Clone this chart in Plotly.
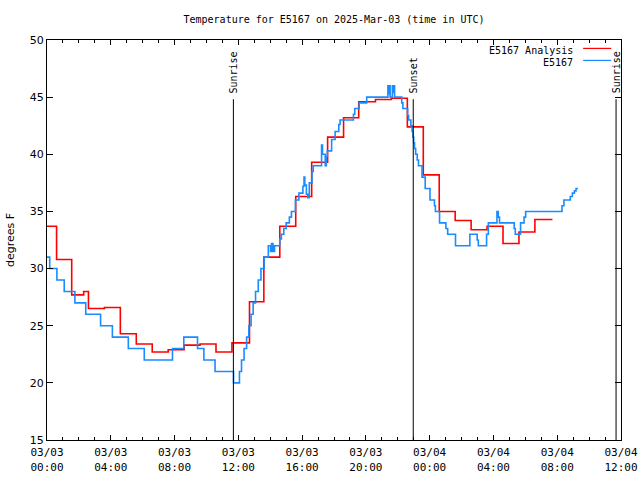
import plotly.graph_objects as go

# ---- data (hours since 2025-03-03 00:00 UTC) ----
analysis_t = [0.0, 0.6, 1.55, 2.3, 2.6, 3.6, 4.6, 5.6, 6.6, 7.6, 8.6, 9.6, 10.6, 11.6,
              12.7, 13.6, 14.6, 15.6, 16.6, 17.6, 18.6, 19.55, 20.6, 21.6, 22.6, 23.6,
              24.6, 25.6, 26.6, 27.6, 28.6, 29.6, 30.6, 31.7]
analysis_v = [33.7, 30.8, 27.7, 28.0, 26.5, 26.6, 24.3, 23.4, 22.7, 22.9, 23.3, 23.4, 22.7, 23.5,
              27.1, 31.0, 33.7, 36.3, 39.3, 41.5, 43.2, 44.6, 44.8, 44.9, 42.4, 38.2,
              35.0, 34.2, 33.4, 33.7, 32.2, 33.2, 34.3, 34.3]

obs_t = [0.00, 0.17, 0.62, 1.08, 1.75, 2.43, 3.36, 4.10, 5.10, 6.10, 7.87, 8.58, 9.44, 9.84,
         10.54, 11.70, 12.07, 12.20, 12.36, 12.52, 12.66, 12.80, 12.93, 13.08, 13.25, 13.42,
         13.62, 13.88, 14.02, 14.08, 14.17, 14.27, 14.60, 14.70, 14.85, 15.00, 15.20, 15.33,
         15.58, 15.80, 16.05, 16.12, 16.17, 16.27, 16.36, 16.45, 16.62, 16.70, 17.22, 17.28,
         17.45, 17.52, 17.58, 17.85, 18.07, 18.30, 18.38, 19.22, 19.30, 19.58, 20.05, 21.38,
         21.42, 21.46, 21.52, 21.66, 21.72, 21.76, 21.80, 22.25, 22.32, 22.62, 22.68, 22.82,
         22.90, 22.95, 23.00, 23.05, 23.12, 23.22, 23.30, 23.52, 23.72, 24.02, 24.30, 24.36,
         24.62, 25.02, 25.13, 25.62, 26.52, 26.98, 27.05, 27.57, 27.68, 28.22, 28.30, 28.38,
         29.30, 29.37, 29.70, 29.92, 30.02, 32.30, 32.42, 32.82, 32.95, 33.08, 33.18, 33.30]
obs_v = [31, 30, 29, 28, 27, 26, 25, 24, 23, 22, 23, 24, 23, 22,
         21, 20, 21, 22, 23, 24, 25, 26, 27, 28, 29, 30,
         31, 32, 31.5, 32.2, 31.5, 32, 32.6, 33, 33.5, 34, 34.5, 35,
         36, 36.6, 37.2, 38, 37.3, 36.5, 36.2, 37.5, 38.5, 39, 40.8, 40,
         39, 39.8, 40.3, 41.3, 42, 42.6, 43, 43.5, 44, 44.5, 45, 46,
         45.3, 46, 45, 46, 45.4, 46, 45, 44.5, 44, 43.4, 43, 42.5,
         42, 41.5, 41, 40.5, 40, 39.5, 39, 38, 37, 36, 35.5, 35,
         34, 33.5, 33, 32, 33, 32.5, 32, 33, 34, 35, 34.5, 34,
         33.5, 33, 34, 34.5, 35, 35.5, 36, 36.3, 36.6, 36.8, 37, 37]

sun_t = [11.69, 22.97, 35.69]
sun_labels = ["Sunrise", "Sunset", "Sunrise"]
sun_top = 44.82

x_tickvals = [0, 4, 8, 12, 16, 20, 24, 28, 32, 36]
x_ticktext = ["03/03<br>00:00", "03/03<br>04:00", "03/03<br>08:00", "03/03<br>12:00",
              "03/03<br>16:00", "03/03<br>20:00", "03/04<br>00:00", "03/04<br>04:00",
              "03/04<br>08:00", "03/04<br>12:00"]
series_names = ["E5167 Analysis", "E5167"]
series_colors = ["#ff0000", "#1a8cff"]

MONO = "DejaVu Sans Mono"
SANS = "DejaVu Sans"

fig = go.Figure()
fig.add_trace(go.Scatter(x=analysis_t, y=analysis_v, mode="lines", line_shape="hv",
                         name=series_names[0], line=dict(color=series_colors[0], width=1.6)))
fig.add_trace(go.Scatter(x=obs_t, y=obs_v, mode="lines", line_shape="hv",
                         name=series_names[1], line=dict(color=series_colors[1], width=1.6)))

for t, lab in zip(sun_t, sun_labels):
    fig.add_shape(type="line", x0=t, x1=t, y0=15, y1=sun_top, xref="x", yref="y",
                  line=dict(color="black", width=1))
    fig.add_annotation(x=t, y=sun_top, xref="x", yref="y", text=lab, showarrow=False,
                       textangle=-90, xanchor="center", yanchor="bottom", yshift=4,
                       font=dict(family=MONO, size=10, color="black"))

# legend drawn gnuplot-style (text right, sample line at far right)
leg_y = [0.975, 0.945]
for name, col, yy in zip(series_names, series_colors, leg_y):
    fig.add_annotation(x=0.92, y=yy, xref="paper", yref="paper", text=name, showarrow=False,
                       xanchor="right", yanchor="middle",
                       font=dict(family=MONO, size=10, color="black"))
    fig.add_shape(type="line", x0=0.934, x1=0.983, y0=yy + 0.004, y1=yy + 0.004,
                  xref="paper", yref="paper", line=dict(color=col, width=1.2))

fig.update_layout(
    width=640, height=480,
    margin=dict(l=47, r=19, t=40, b=40, autoexpand=False),
    plot_bgcolor="white", paper_bgcolor="white",
    showlegend=False,
    title=dict(text="Temperature for E5167 on 2025-Mar-03 (time in UTC)",
               x=0.5, xref="paper", y=1 - 19 / 480, yref="container", yanchor="middle",
               font=dict(family=MONO, size=10, color="black")),
)
fig.update_xaxes(range=[0, 36], tickmode="array", tickvals=x_tickvals, ticktext=x_ticktext,
                 ticks="inside", ticklen=5, tickcolor="black", tickwidth=1,
                 showline=True, linecolor="black", linewidth=1, mirror="ticks",
                 showgrid=False, zeroline=False, ticklabelstandoff=2,
                 tickfont=dict(family=MONO, size=11, color="black"),
                 minor=dict(tickmode="linear", tick0=0, dtick=1, ticks="inside", ticklen=3,
                            tickcolor="black", showgrid=False))
fig.update_yaxes(range=[15, 50], tickmode="linear", tick0=15, dtick=5,
                 ticks="inside", ticklen=6, tickcolor="black", tickwidth=1,
                 showline=True, linecolor="black", linewidth=1, mirror="ticks",
                 showgrid=False, zeroline=False,
                 tickfont=dict(family=SANS, size=11, color="black"),
                 title=dict(text="degrees F", standoff=12,
                            font=dict(family=SANS, size=11, color="black")))

fig.write_html("out.html", config={"displayModeBar": False},
               post_script="document.body.style.margin='0px';document.body.style.overflow='hidden';")
